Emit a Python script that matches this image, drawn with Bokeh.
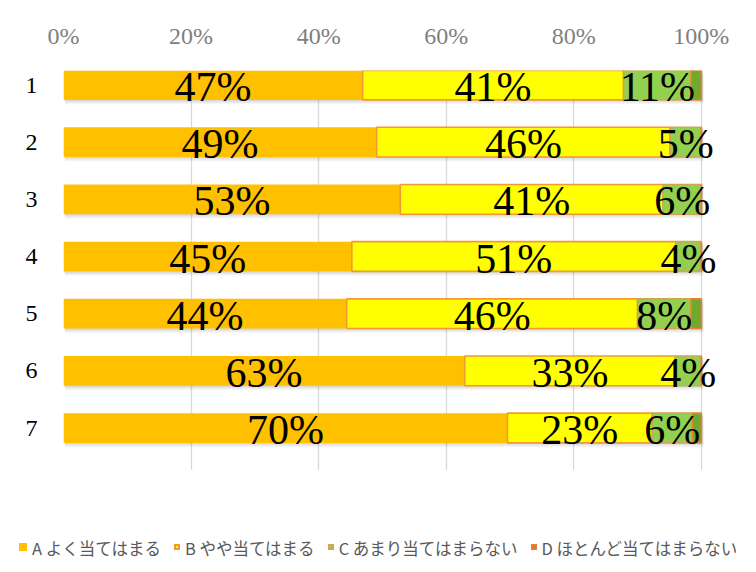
import numpy as np
from bokeh.plotting import figure
from bokeh.layouts import column
from bokeh.models import (ColumnDataSource, Range1d, FixedTicker, LabelSet, Div)
from bokeh.embed import file_html
from bokeh.resources import INLINE

# ---------------- data ----------------
categories = ["1", "2", "3", "4", "5", "6", "7"]
series_names = ["A よく当てはまる", "B やや当てはまる",
                "C あまり当てはまらない", "D ほとんど当てはまらない"]
a_vals = [46.9, 49.1, 52.8, 45.2, 44.4, 62.9, 69.6]
b_vals = [40.9, 46.0, 41.2, 50.8, 45.6, 33.0, 22.7]
c_vals = [10.6, 4.9, 6.0, 4.0, 8.4, 4.1, 6.3]
d_vals = [1.6, 0.0, 0.0, 0.0, 1.6, 0.0, 1.4]
x_ticks = [0, 20, 40, 60, 80, 100]
x_tick_labels = ["0%", "20%", "40%", "60%", "80%", "100%"]

# ---------------- styles ----------------
fills = ["#FFC000", "#FFFF00", "#92D050", "#6FAA2E"]
lines = [None, "#F19A35", "#D2A456", "#ED7D31"]
SERIF = "Liberation Serif"

series = [np.array(v, dtype=float) for v in (a_vals, b_vals, c_vals, d_vals)]
ypos = np.arange(1, len(categories) + 1, dtype=float)
lefts, rights = [], []
acc = np.zeros(len(categories))
for s in series:
    lefts.append(acc.copy())
    acc = acc + s
    rights.append(acc.copy())
totals = acc

p = figure(width=740, height=470, output_backend="svg", toolbar_location=None,
           x_range=Range1d(0, 103), y_range=Range1d(7.743, 0.746),
           x_axis_location="above",
           min_border_left=63, min_border_top=70, min_border_right=20,
           min_border_bottom=0)
p.outline_line_color = None
p.background_fill_color = "white"
p.border_fill_color = "white"

# grid
p.xgrid.ticker = FixedTicker(ticks=x_ticks)
p.xgrid.grid_line_color = "#D9D9D9"
p.xgrid.grid_line_width = 1.3
p.ygrid.grid_line_color = None

# axes
xa = p.xaxis[0]
xa.ticker = FixedTicker(ticks=x_ticks)
xa.major_label_overrides = {t: l for t, l in zip(x_ticks, x_tick_labels)}
xa.axis_line_color = None
xa.major_tick_line_color = None
xa.minor_tick_line_color = None
xa.major_tick_out = 0
xa.minor_tick_out = 0
xa.major_label_text_font = SERIF
xa.major_label_text_font_size = "24px"
xa.major_label_text_color = "#7F7F7F"
xa.major_label_standoff = 22

ya = p.yaxis[0]
ya.ticker = FixedTicker(ticks=list(ypos))
ya.major_label_overrides = {float(y): c for y, c in zip(ypos, categories)}
ya.axis_line_color = None
ya.major_tick_line_color = None
ya.minor_tick_line_color = None
ya.major_tick_out = 0
ya.minor_tick_out = 0
ya.major_label_text_font = SERIF
ya.major_label_text_font_size = "24px"
ya.major_label_text_color = "#000000"
ya.major_label_standoff = 26

BAR_H = 0.52

# drop shadow under each bar
for dy, alpha in [(0.02, 0.10), (0.04, 0.10), (0.06, 0.08), (0.08, 0.05)]:
    p.hbar(y=ypos + dy, left=np.zeros_like(totals) + 0.2, right=totals + 0.3,
           height=BAR_H, fill_color="#7F7F7F", fill_alpha=alpha, line_color=None)

for i, name in enumerate(series_names):
    src = ColumnDataSource(dict(y=ypos, left=lefts[i], right=rights[i]))
    p.hbar(y="y", left="left", right="right", height=BAR_H, source=src,
           fill_color=fills[i],
           line_color=lines[i] if lines[i] else None,
           line_width=1.6)

# data labels for A, B, C
lab_x, lab_y, lab_t = [], [], []
for i in range(3):
    for j in range(len(categories)):
        v = series[i][j]
        if v <= 0:
            continue
        lab_x.append((lefts[i][j] + rights[i][j]) / 2)
        lab_y.append(ypos[j])
        lab_t.append(f"{int(round(v))}%")
lsrc = ColumnDataSource(dict(x=lab_x, y=lab_y, t=lab_t))
labels = LabelSet(x="x", y="y", text="t", source=lsrc, text_align="center",
                  text_baseline="middle", text_font=SERIF,
                  text_font_size="42px", text_color="#000000", y_offset=-2)
p.add_layout(labels)

# ---------------- legend strip (HTML) ----------------
parts = []
for i, name in enumerate(series_names):
    if lines[i]:
        sw = (f"display:inline-block;width:6px;height:6px;background:{fills[i]};"
              f"border:2px solid {lines[i]};")
    else:
        sw = (f"display:inline-block;width:8px;height:8px;background:{fills[i]};"
              f"border:1px solid {fills[i]};")
    parts.append(
        f'<span style="{sw}margin-right:5px;vertical-align:middle;'
        f'position:relative;top:-1px"></span>'
        f'<span style="margin-right:13px;vertical-align:middle">{name}</span>')
legend_html = ('<div style="padding-left:19px;padding-top:65px;white-space:nowrap;'
               'font-family:\'Noto Sans CJK JP\';font-size:16.5px;line-height:20px;'
               'color:#595959">' + "".join(parts) + '</div>')
legend_div = Div(text=legend_html, width=740, height=86, margin=(0, 0, 0, 0))

layout = column(p, legend_div, spacing=0)
open("out.html", "w").write(file_html(layout, INLINE))
